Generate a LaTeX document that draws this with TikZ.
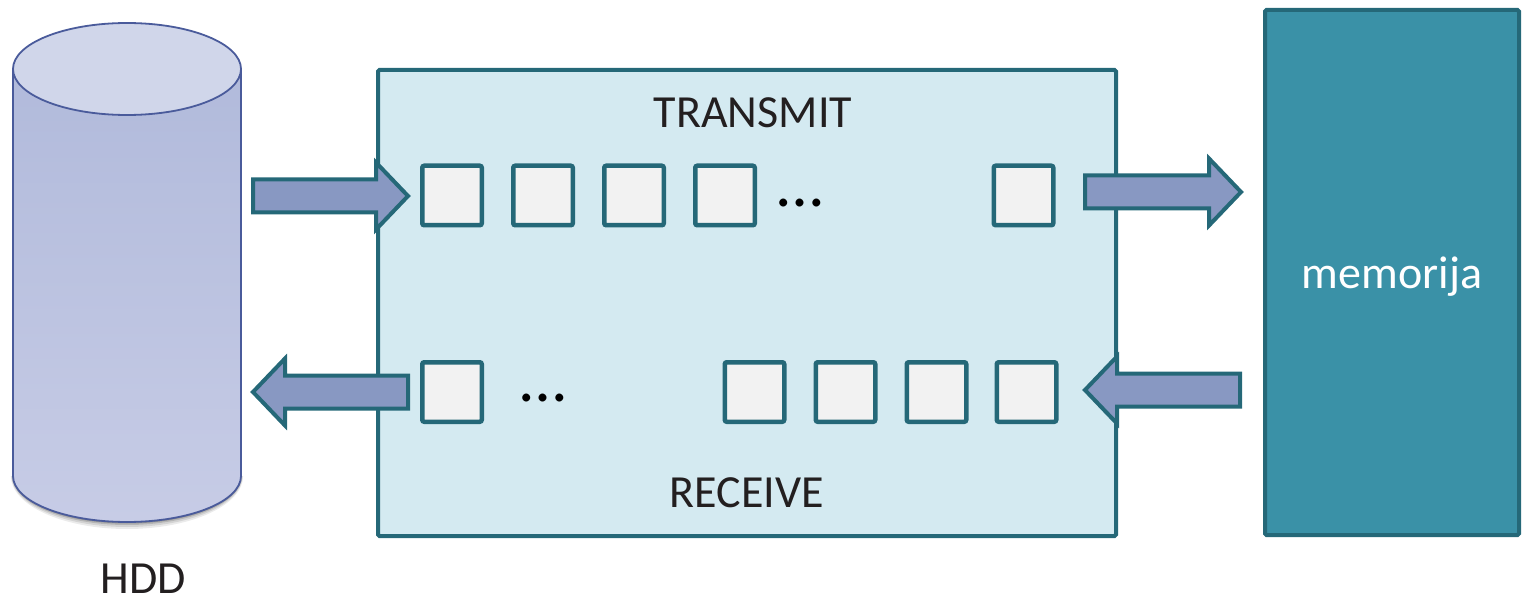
\documentclass[tikz,border=0pt]{standalone}
\usepackage{fontspec}
\setmainfont{Carlito}
\usetikzlibrary{calc}

\definecolor{teal}{HTML}{256878}
\definecolor{bufferfill}{HTML}{D4EAF1}
\definecolor{slotfill}{HTML}{F2F2F2}
\definecolor{memfill}{HTML}{3A91A7}
\definecolor{arrowfill}{HTML}{8898C2}
\definecolor{diskline}{HTML}{4A5B9B}
\definecolor{disktop}{HTML}{D0D6EA}
\definecolor{diskbodytop}{HTML}{B1BADB}
\definecolor{diskbodybot}{HTML}{C7CCE6}
\definecolor{ink}{HTML}{231F20}

\tikzset{
  labeltext/.style={font=\fontsize{46}{50}\selectfont, text=ink, inner sep=0pt},
  dotstext/.style={font=\fontsize{66}{70}\selectfont, text=black, inner sep=0pt},
  slot/.style={draw=teal, fill=slotfill, line width=4.5pt, rounded corners=2pt,
               minimum size=59.5pt, inner sep=0pt},
  buffer/.style={draw=teal, fill=bufferfill, line width=4pt, rounded corners=1.5pt},
  memory/.style={draw=teal, fill=memfill, line width=4pt, rounded corners=1.5pt},
  barrow/.style={draw=teal, fill=arrowfill, line width=4pt, line join=miter},
}

% horizontal block arrow from #1 (tail) to #2 (tip)
\newcommand{\blockarrow}[2]{%
  \path[barrow] let \p1=(#1), \p2=(#2), \n1={ifthenelse(\x2>\x1,1,-1)} in
    (\x1,\y1+16.5pt) -- (\x2-\n1*32pt,\y1+16.5pt) -- (\x2-\n1*32pt,\y1+33.5pt)
    -- (\x2,\y2) -- (\x2-\n1*32pt,\y1-33.5pt) -- (\x2-\n1*32pt,\y1-16.5pt)
    -- (\x1,\y1-16.5pt) -- cycle;}

\begin{document}
\begin{tikzpicture}[x=1pt,y=-1pt]
\useasboundingbox (0,0) rectangle (1527,604);

% --- disk drive ---
\coordinate (hddtop) at (127,69);
\coordinate (hddbot) at (127,476);
% soft shadow under the base
\foreach \d/\o in {7/0.08,5/0.10,3/0.14,1.5/0.18}
  \fill[black, opacity=\o] (13-\d*0.3,476) arc[start angle=180, end angle=0, x radius=114+\d*0.3, y radius=46+\d];
\path[top color=diskbodytop, bottom color=diskbodybot, draw=diskline, line width=1.8pt]
  (13,69) -- (13,476) arc[start angle=180, end angle=0, x radius=114, y radius=46]
  -- (241,69) -- cycle;
\draw[fill=disktop, draw=diskline, line width=1.8pt] (hddtop) ellipse[x radius=114, y radius=46];
\node[coordinate] (hdd) at (127,270) {};
\node[labeltext, text depth=0pt, anchor=base] (hddlabel) at (143,593) {HDD};

% --- buffer block ---
\draw[buffer] (378,70) rectangle (1116,536);
\node[coordinate] (buf) at (747,303) {};
\node[labeltext, anchor=base] (tx) at (753,128) {TRANSMIT};
\node[labeltext, anchor=base] (rx) at (747,507) {RECEIVE};

% transmit queue
\foreach \i/\x in {1/452,2/543,3/634,4/725,5/1023.5}
  \node[slot] (t\i) at (\x,195.5) {};
\node[dotstext, anchor=base] (tdots) at (800,207) {\dots};

% receive queue
\foreach \i/\x in {1/452,2/754.5,3/845.5,4/936.5,5/1026.5}
  \node[slot] (r\i) at (\x,392) {};
\node[dotstext, anchor=base] (rdots) at (543,401) {\dots};

% --- memory ---
\draw[memory] (1265,10) rectangle (1519,535);
\node[labeltext, anchor=base, text=white] (mem) at (1392,288) {memorija};

% --- data flow arrows ---
\coordinate (a1s) at (253,196);  \coordinate (a1e) at (408,196);
\coordinate (a2s) at (1085,192); \coordinate (a2e) at (1241,192);
\coordinate (a3s) at (1240,390); \coordinate (a3e) at (1085,390);
\coordinate (a4s) at (408,392);  \coordinate (a4e) at (253,392);
\blockarrow{a1s}{a1e}
\blockarrow{a2s}{a2e}
\blockarrow{a3s}{a3e}
\blockarrow{a4s}{a4e}
\end{tikzpicture}
\end{document}
